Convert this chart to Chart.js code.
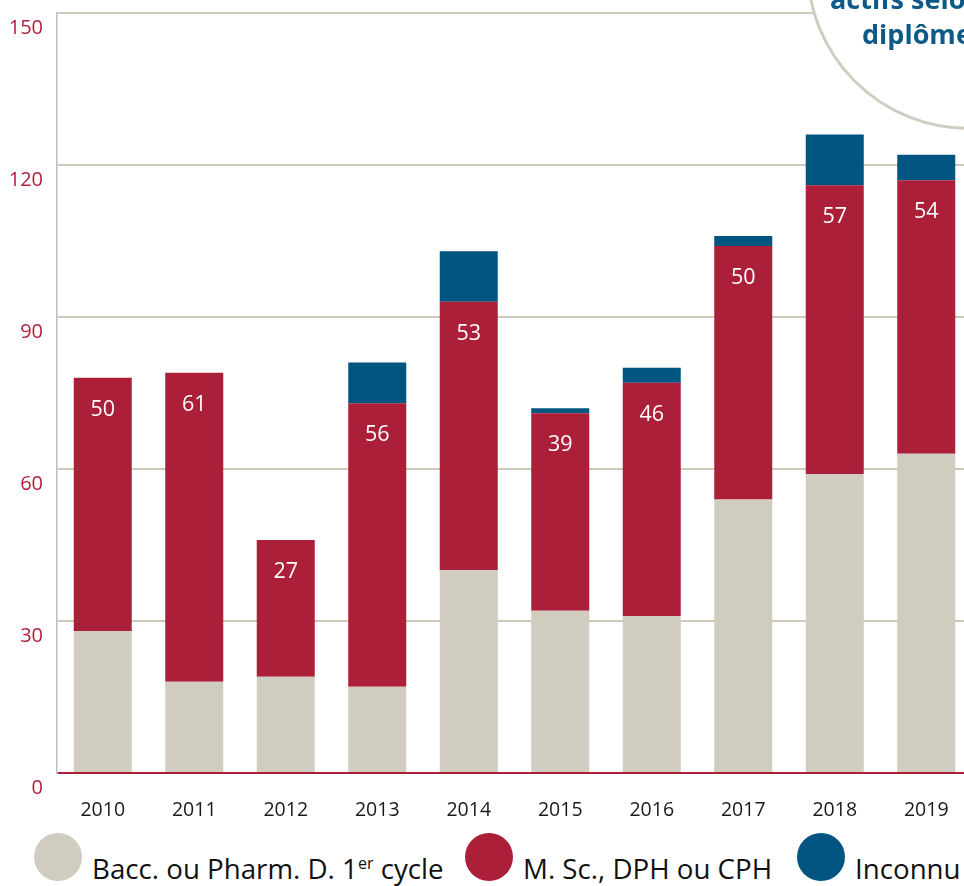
<!DOCTYPE html>
<html>
<head>
<meta charset="utf-8">
<script src="https://cdn.jsdelivr.net/npm/chart.js@4"></script>
<style>
html, body { margin:0; padding:0; overflow:hidden; background:#fff; }
body { width:964px; height:886px; position:relative; font-family:"Open Sans", sans-serif; }
#wrap { position:absolute; left:0; top:0; width:972px; height:830px; }
#bubble { position:absolute; left:806px; top:-196px; width:326px; height:326px; box-sizing:border-box;
  border:3px solid #d0ccbf; border-radius:50%; background:#fff; }
.btxt { position:absolute; font-weight:700; font-size:27px; line-height:27px; color:#0d5a88; white-space:nowrap; }
.dot { position:absolute; width:48px; height:48px; border-radius:50%; }
.ltxt { position:absolute; font-size:27.7px; line-height:27.7px; color:#111; white-space:nowrap; }
.ltxt sup { font-size:0.58em; line-height:0; vertical-align:0.62em; }
</style>
</head>
<body>
<div id="wrap"><canvas id="c"></canvas></div>
<div id="bubble"></div>
<div class="btxt" style="left:830px; top:-15px;">actifs selon</div>
<div class="btxt" style="left:862px; top:20px;">diplôme</div>

<div class="dot" style="left:34px; top:833px; background:#d0ccbf;"></div>
<div class="ltxt" style="left:92px; top:855px;">Bacc. ou Pharm. D. 1<sup>er</sup> cycle</div>
<div class="dot" style="left:465px; top:833px; background:#ab1f39;"></div>
<div class="ltxt" style="left:523px; top:855px;">M. Sc., DPH ou CPH</div>
<div class="dot" style="left:797px; top:833px; background:#005581;"></div>
<div class="ltxt" style="left:855px; top:855px;">Inconnu</div>

<script>
const years = ['2010','2011','2012','2013','2014','2015','2016','2017','2018','2019'];
const bacc = [28, 18, 19, 17, 40, 32, 31, 54, 59, 63];
const msc = [50, 61, 27, 56, 53, 39, 46, 50, 57, 54];
const inconnu = [0, 0, 0, 8, 10, 1, 3, 2, 10, 5];
const seriesNames = ['Bacc. ou Pharm. D. 1er cycle', 'M. Sc., DPH ou CPH', 'Inconnu'];
const yTicks = [0, 30, 60, 90, 120, 150];

Chart.defaults.font.family = '"Open Sans", sans-serif';

const labelPlugin = {
  id: 'mscLabels',
  afterDatasetsDraw(chart) {
    const ctx = chart.ctx;
    const meta = chart.getDatasetMeta(1);
    ctx.save();
    ctx.fillStyle = '#ffffff';
    ctx.font = '21.5px "Open Sans", sans-serif';
    ctx.textAlign = 'center';
    ctx.textBaseline = 'middle';
    meta.data.forEach((el, i) => {
      ctx.fillText(String(msc[i]), el.x, el.y + 32);
    });
    ctx.restore();
  }
};

new Chart(document.getElementById('c'), {
  type: 'bar',
  data: {
    labels: years,
    datasets: [
      { label: seriesNames[0], data: bacc, backgroundColor: '#d0ccbf' },
      { label: seriesNames[1], data: msc, backgroundColor: '#ab1f39' },
      { label: seriesNames[2], data: inconnu, backgroundColor: '#005581' }
    ]
  },
  options: {
    responsive: true,
    maintainAspectRatio: false,
    animation: false,
    layout: { padding: { top: 13, left: 0, right: 0, bottom: 0 } },
    datasets: { bar: { categoryPercentage: 1, barPercentage: 0.634, borderWidth: 0 } },
    plugins: { legend: { display: false }, tooltip: { enabled: false } },
    scales: {
      x: {
        stacked: true,
        grid: { display: false },
        border: { display: false },
        ticks: { color: '#1a1a1a', font: { size: 19.5 }, padding: 18 },
        afterFit(s) { s.height = 57; s.paddingLeft = 0; s.paddingRight = 0; }
      },
      y: {
        stacked: true,
        min: 0, max: 150,
        z: 1,
        afterBuildTicks(s) { s.ticks = yTicks.map(v => ({ value: v })); },
        afterFit(s) { s.width = 57; s.paddingTop = 0; s.paddingBottom = 0; },
        grid: {
          drawTicks: false,
          lineWidth: 2,
          color: c => (c.tick && c.tick.value === 0) ? '#ab1f39' : 'rgba(120,100,50,0.35)'
        },
        border: { color: '#bdbdbd', width: 1.5 },
        ticks: { color: '#b3213f', font: { size: 20 }, padding: 14, labelOffset: 15 }
      }
    }
  },
  plugins: [labelPlugin]
});
</script>
</body>
</html>
